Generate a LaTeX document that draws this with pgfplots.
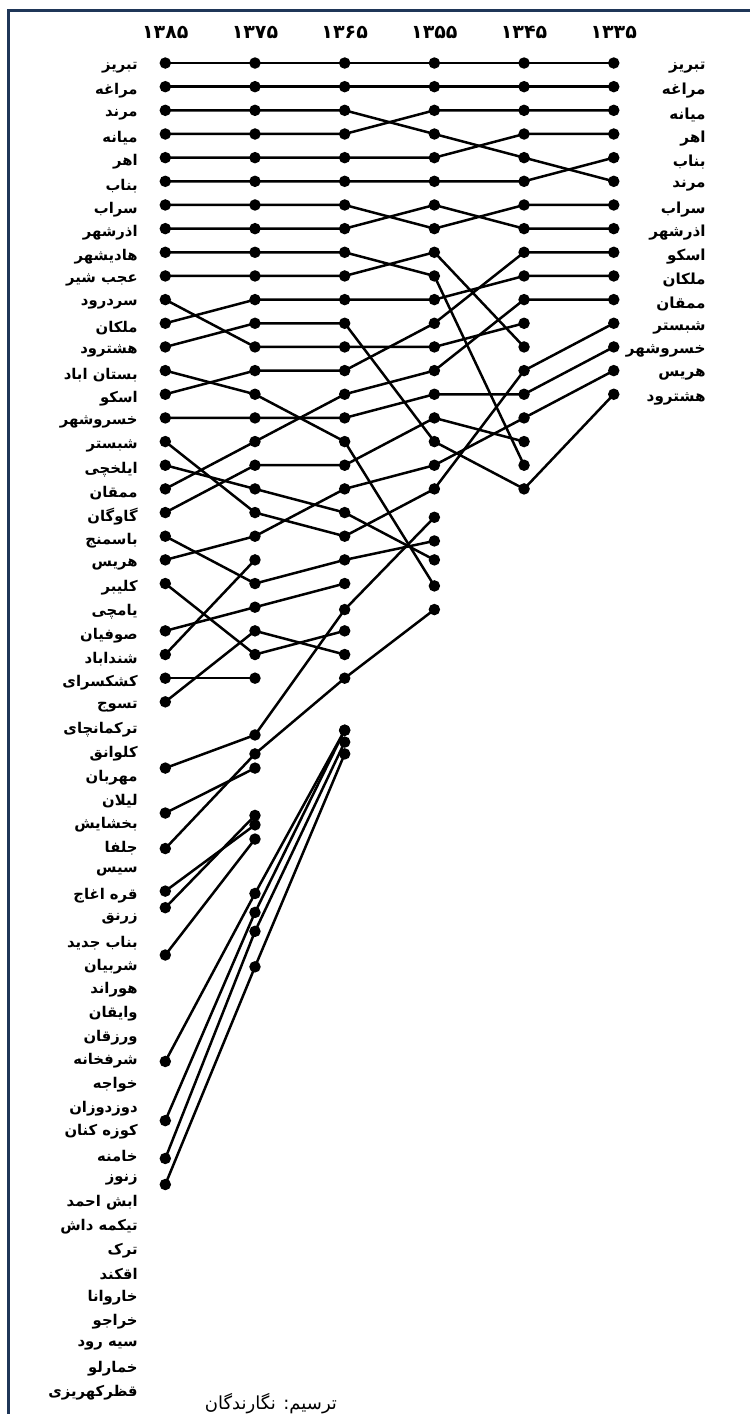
\documentclass[border=0pt]{standalone}
\usepackage{pgfplots}
\pgfplotsset{compat=1.18}
\usepackage{fontspec}
\TeXXeTstate=1
\newfontfamily\fa[Script=Arabic]{DejaVu Sans}
\definecolor{framecol}{HTML}{1F3658}
\newcommand{\LL}[2]{\node[anchor=east,inner sep=0pt,yshift=-2.2pt,font=\fa\bfseries\fontsize{7.4}{8}\selectfont] at (axis cs:-0.304,#1) {#2};}
\newcommand{\RR}[2]{\node[anchor=east,inner sep=0pt,yshift=-2.2pt,font=\fa\bfseries\fontsize{7.6}{8}\selectfont] at (axis cs:6.029,#1) {#2};}
\newcommand{\YY}[2]{\node[inner sep=0pt,font=\fa\bfseries\fontsize{9.5}{10}\selectfont] at (axis cs:#1,-0.31) {#2};}
\pgfplotsset{city/.style={black, solid, line width=1.25pt, mark=*, mark size=2.2pt, mark options={solid,fill=black}}}
\begin{document}
\begin{tikzpicture}
\begin{axis}[
  at={(0,0)}, anchor=south west,
  width=375pt, height=707pt, scale only axis,
  xmin=-1.843, xmax=6.519, ymin=-1.663, ymax=58.10, y dir=reverse,
  axis lines=none, xtick=\empty, ytick=\empty,
  clip=false,
]
% city ranks: x=0 (1385), 1 (1375), 2 (1365), 3 (1355), 4 (1345), 5 (1335)
\addplot[city] coordinates {(0,1)(1,1)(2,1)(3,1)(4,1)(5,1)};
\addplot[city] coordinates {(0,2)(1,2)(2,2)(3,2)(4,2)(5,2)};
\addplot[city] coordinates {(0,3)(1,3)(2,3)(3,4)(4,5)(5,6)};
\addplot[city] coordinates {(0,4)(1,4)(2,4)(3,3)(4,3)(5,3)};
\addplot[city] coordinates {(0,5)(1,5)(2,5)(3,5)(4,4)(5,4)};
\addplot[city] coordinates {(0,6)(1,6)(2,6)(3,6)(4,6)(5,5)};
\addplot[city] coordinates {(0,7)(1,7)(2,7)(3,8)(4,7)(5,7)};
\addplot[city] coordinates {(0,8)(1,8)(2,8)(3,7)(4,8)(5,8)};
\addplot[city] coordinates {(0,9)(1,9)(2,9)(3,10)(4,18)};
\addplot[city] coordinates {(0,10)(1,10)(2,10)(3,9)(4,13)};
\addplot[city] coordinates {(0,11)(1,13)(2,13)(3,13)(4,12)};
\addplot[city] coordinates {(0,12)(1,11)(2,11)(3,11)(4,10)(5,10)};
\addplot[city] coordinates {(0,13)(1,12)(2,12)(3,17)(4,19)(5,15)};
\addplot[city] coordinates {(0,14)(1,15)(2,17)(3,23.1)};
\addplot[city] coordinates {(0,15)(1,14)(2,14)(3,12)(4,9)(5,9)};
\addplot[city] coordinates {(0,16)(1,16)(2,16)(3,15)(4,15)(5,13)};
\addplot[city] coordinates {(0,17)(1,20)(2,21)(3,19)(4,14)(5,12)};
\addplot[city] coordinates {(0,18)(1,19)(2,20)(3,22)};
\addplot[city] coordinates {(0,19)(1,17)(2,15)(3,14)(4,11)(5,11)};
\addplot[city] coordinates {(0,20)(1,18)(2,18)(3,16)(4,17)};
\addplot[city] coordinates {(0,21)(1,23)(2,22)(3,21.2)};
\addplot[city] coordinates {(0,22)(1,21)(2,19)(3,18)(4,16)(5,14)};
\addplot[city] coordinates {(0,23)(1,26)(2,25)};
\addplot[city] coordinates {(0,25)(1,24)(2,23)};
\addplot[city] coordinates {(0,26)(1,22)};
\addplot[city] coordinates {(0,27)(1,27)};
\addplot[city] coordinates {(0,28)(1,25)(2,26)};
\addplot[city] coordinates {(0,30.8)(1,29.4)(2,24.1)(3,20.2)};
\addplot[city] coordinates {(0,32.7)(1,30.8)};
\addplot[city] coordinates {(0,34.2)(1,30.2)(2,27)(3,24.1)};
\addplot[city] coordinates {(0,36)(1,33.2)};
\addplot[city] coordinates {(0,36.7)(1,32.8)};
\addplot[city] coordinates {(0,38.7)(1,33.8)};
\addplot[city] coordinates {(0,43.2)(1,36.1)(2,29.2)};
\addplot[city] coordinates {(0,45.7)(1,36.9)(2,29.2)};
\addplot[city] coordinates {(0,47.3)(1,37.7)(2,29.7)};
\addplot[city] coordinates {(0,48.4)(1,39.2)(2,30.2)};
% year labels
\YY{0}{۱۳۸۵}
\YY{1}{۱۳۷۵}
\YY{2}{۱۳۶۵}
\YY{3}{۱۳۵۵}
\YY{4}{۱۳۴۵}
\YY{5}{۱۳۳۵}
% left labels (1385)
\LL{1}{\beginR تبریز\endR}
\LL{2}{\beginR مراغه\endR}
\LL{3}{\beginR مرند\endR}
\LL{4}{\beginR میانه\endR}
\LL{5}{\beginR اهر\endR}
\LL{6}{\beginR بناب\endR}
\LL{7}{\beginR سراب\endR}
\LL{8}{\beginR اذرشهر\endR}
\LL{9}{\beginR هادیشهر\endR}
\LL{10}{\beginR عجب شیر\endR}
\LL{11}{\beginR سردرود\endR}
\LL{12}{\beginR ملکان\endR}
\LL{13}{\beginR هشترود\endR}
\LL{14}{\beginR بستان اباد\endR}
\LL{15}{\beginR اسکو\endR}
\LL{16}{\beginR خسروشهر\endR}
\LL{17}{\beginR شبستر\endR}
\LL{18}{\beginR ایلخچی\endR}
\LL{19}{\beginR ممقان\endR}
\LL{20}{\beginR گاوگان\endR}
\LL{21}{\beginR باسمنج\endR}
\LL{22}{\beginR هریس\endR}
\LL{23}{\beginR کلیبر\endR}
\LL{24}{\beginR یامچی\endR}
\LL{25}{\beginR صوفیان\endR}
\LL{26}{\beginR شنداباد\endR}
\LL{27}{\beginR کشکسرای\endR}
\LL{28}{\beginR تسوج\endR}
\LL{29}{\beginR ترکمانچای\endR}
\LL{30}{\beginR کلوانق\endR}
\LL{31}{\beginR مهربان\endR}
\LL{32}{\beginR لیلان\endR}
\LL{33}{\beginR بخشایش\endR}
\LL{34}{\beginR جلفا\endR}
\LL{35}{\beginR سیس\endR}
\LL{36}{\beginR قره اغاج\endR}
\LL{37}{\beginR زرنق\endR}
\LL{38}{\beginR بناب جدید\endR}
\LL{39}{\beginR شربیان\endR}
\LL{40}{\beginR هوراند\endR}
\LL{41}{\beginR وایقان\endR}
\LL{42}{\beginR ورزقان\endR}
\LL{43}{\beginR شرفخانه\endR}
\LL{44}{\beginR خواجه\endR}
\LL{45}{\beginR دوزدوزان\endR}
\LL{46}{\beginR کوزه کنان\endR}
\LL{47}{\beginR خامنه\endR}
\LL{48}{\beginR زنوز\endR}
\LL{49}{\beginR ابش احمد\endR}
\LL{50}{\beginR تیکمه داش\endR}
\LL{51}{\beginR ترک\endR}
\LL{52}{\beginR اقکند\endR}
\LL{53}{\beginR خاروانا\endR}
\LL{54}{\beginR خراجو\endR}
\LL{55}{\beginR سیه رود\endR}
\LL{56}{\beginR خمارلو\endR}
\LL{57}{\beginR قظرکهریزی\endR}
% right labels (1335)
\RR{1}{\beginR تبریز\endR}
\RR{2}{\beginR مراغه\endR}
\RR{3}{\beginR میانه\endR}
\RR{4}{\beginR اهر\endR}
\RR{5}{\beginR بناب\endR}
\RR{6}{\beginR مرند\endR}
\RR{7}{\beginR سراب\endR}
\RR{8}{\beginR اذرشهر\endR}
\RR{9}{\beginR اسکو\endR}
\RR{10}{\beginR ملکان\endR}
\RR{11}{\beginR ممقان\endR}
\RR{12}{\beginR شبستر\endR}
\RR{13}{\beginR خسروشهر\endR}
\RR{14}{\beginR هریس\endR}
\RR{15}{\beginR هشترود\endR}
% caption
\node[inner sep=0pt,font=\fa\fontsize{9}{10}\selectfont] at (axis cs:1.178,57.64) {\beginR ترسیم: نگارندگان\endR};
\end{axis}
\draw[framecol, line width=1.5pt] (4pt,0pt) -- (4pt,701.5pt) -- (375pt,701.5pt);
\pgfresetboundingbox
\path[use as bounding box] (0,0) rectangle (375pt,707pt);
\end{tikzpicture}
\end{document}
